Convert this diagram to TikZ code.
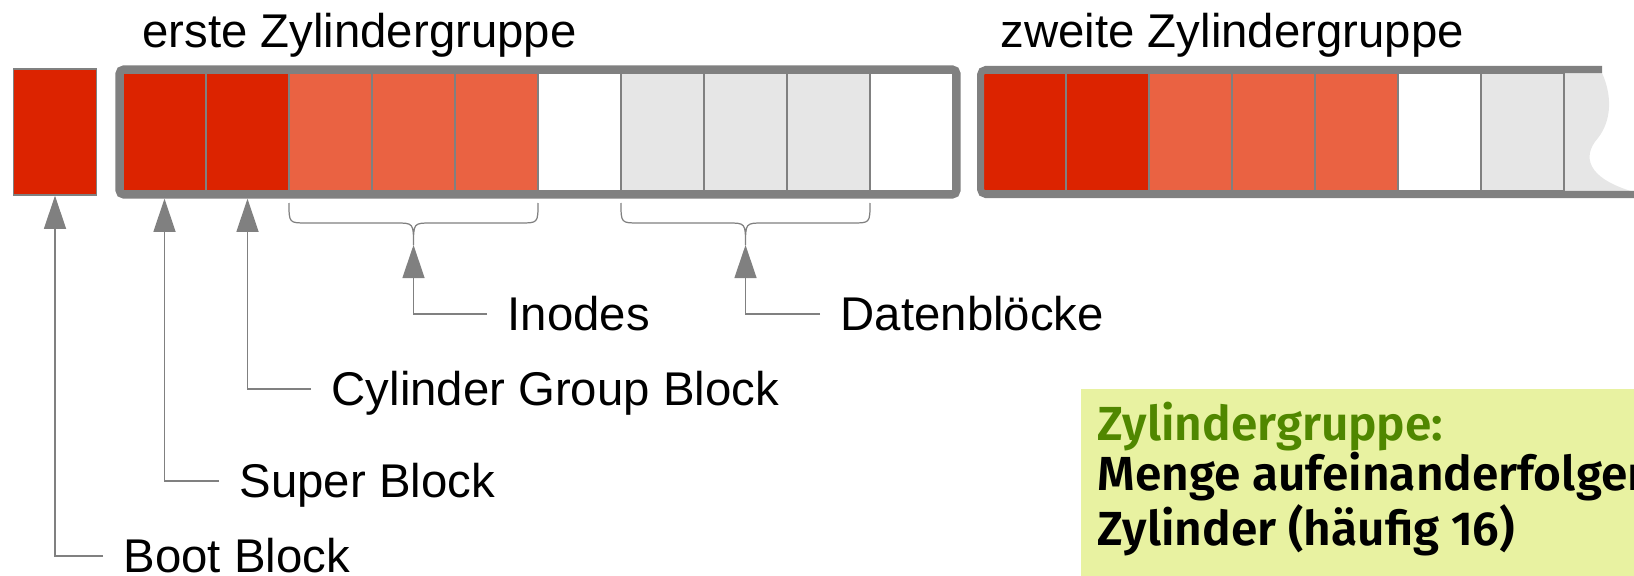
\documentclass[tikz,border=0pt]{standalone}
\usepackage{fontspec}
\setmainfont{Liberation Sans}
\newfontfamily\kastenfont{Fira Sans}[BoldFont={Fira Sans SemiBold}]
\usetikzlibrary{arrows.meta}
\definecolor{rotdunkel}{RGB}{220,35,0}
\definecolor{rothell}{RGB}{234,98,66}
\definecolor{hellgrau}{RGB}{230,230,230}
\definecolor{randgrau}{RGB}{128,128,128}
\definecolor{kastengruen}{RGB}{232,242,161}
\definecolor{textgruen}{RGB}{80,135,0}

\begin{document}
\begin{tikzpicture}[x=0.01cm,y=-0.01cm,
  zelle/.style={draw=randgrau,line width=0.4pt,minimum width=0.83cm,minimum height=1.18cm,inner sep=0pt},
  rahmen/.style={draw=randgrau,line width=0.07cm,rounded corners=1.5pt},
  pfeil/.style={draw=randgrau,line width=0.35pt,-{Triangle[length=0.33cm,width=0.22cm]}},
  klammer/.style={draw=randgrau,line width=0.35pt},
  schrift/.style={font=\fontsize{13.46}{16}\selectfont},
  beschr/.style={schrift,anchor=west,inner xsep=0.2cm,inner ysep=0pt,text height=9.64pt,text depth=0pt},
  titel/.style={schrift,anchor=base west,inner sep=0pt}]
  \useasboundingbox (0,0) rectangle (1634,576);
  \clip (0,0) rectangle (1634,576);
  % boot block
  \node[zelle,fill=rotdunkel,minimum height=1.26cm] (boot) at (55,132) {};
  % erste Zylindergruppe
  \foreach \i/\c in {1/rotdunkel,2/rotdunkel,3/rothell,4/rothell,5/rothell,6/white,7/hellgrau,8/hellgrau,9/hellgrau,10/white}
    \node[zelle,fill=\c] (a\i) at ({123+(\i-0.5)*83},132) {};
  \draw[rahmen] ([shift={(-3.5,3.5)}]a1.south west) rectangle ([shift={(3.5,-3.5)}]a10.north east);
  \node[titel] (titel1) at (141.7,48) {erste Zylindergruppe};
  % zweite Zylindergruppe, rechts abgerissen
  \fill[hellgrau] (1564,73) -- (1602,73) .. controls (1612,95) and (1612,120) .. (1598,138)
    .. controls (1582,156) and (1586,178) .. (1634,192) -- (1564,191) -- cycle;
  \foreach \i/\c in {1/rotdunkel,2/rotdunkel,3/rothell,4/rothell,5/rothell,6/white,7/hellgrau}
    \node[zelle,fill=\c] (b\i) at ({983+(\i-0.5)*83},132) {};
  \draw[rahmen] (1602,69.5) -- (980.5,69.5) -- (980.5,194.5) -- (1640,194.5);
  \node[titel] (titel2) at (1000,48) {zweite Zylindergruppe};
  % Klammern unter Inodes und Datenbloecken
  \foreach \l/\r in {289/538,621/870}
    \draw[klammer] (\l,203) .. controls (\l,223) .. (\l+18,223) -- ({(\l+\r)/2-18},223)
      .. controls ({(\l+\r)/2},223) .. ({(\l+\r)/2},245)
      .. controls ({(\l+\r)/2},223) .. ({(\l+\r)/2+18},223) -- (\r-18,223)
      .. controls (\r,223) .. (\r,203);
  \coordinate (inodesspitze) at (413.5,245);
  \coordinate (datenspitze) at (745.5,245);
  % Beschriftungen
  \node[beschr] (bootl) at (103,556) {Boot Block};
  \node[beschr] (superl) at (219,481) {Super Block};
  \node[beschr] (cgbl) at (311,389) {Cylinder Group Block};
  \node[beschr] (inodesl) at (487,314) {Inodes};
  \node[beschr] (datenl) at (820,314) {Datenblöcke};
  \draw[pfeil] (bootl.west) -| (boot.south);
  \draw[pfeil] (superl.west) -| ([yshift=-0.07cm]a1.south);
  \draw[pfeil] (cgbl.west) -| ([yshift=-0.07cm]a2.south);
  \draw[pfeil] (inodesl.west) -| (inodesspitze);
  \draw[pfeil] (datenl.west) -| (datenspitze);
  % Kasten
  \fill[kastengruen] (1081,389) rectangle (1640,580);
  \node[anchor=base west,inner sep=0pt,align=left,font=\kastenfont\bfseries\fontsize{13.6}{14.1}\selectfont] (kasten) at (1097,545)
    {\textcolor{textgruen}{Zylindergruppe:}\\Menge aufeinanderfolgender\\Zylinder (häufig 16)};
\end{tikzpicture}
\end{document}
